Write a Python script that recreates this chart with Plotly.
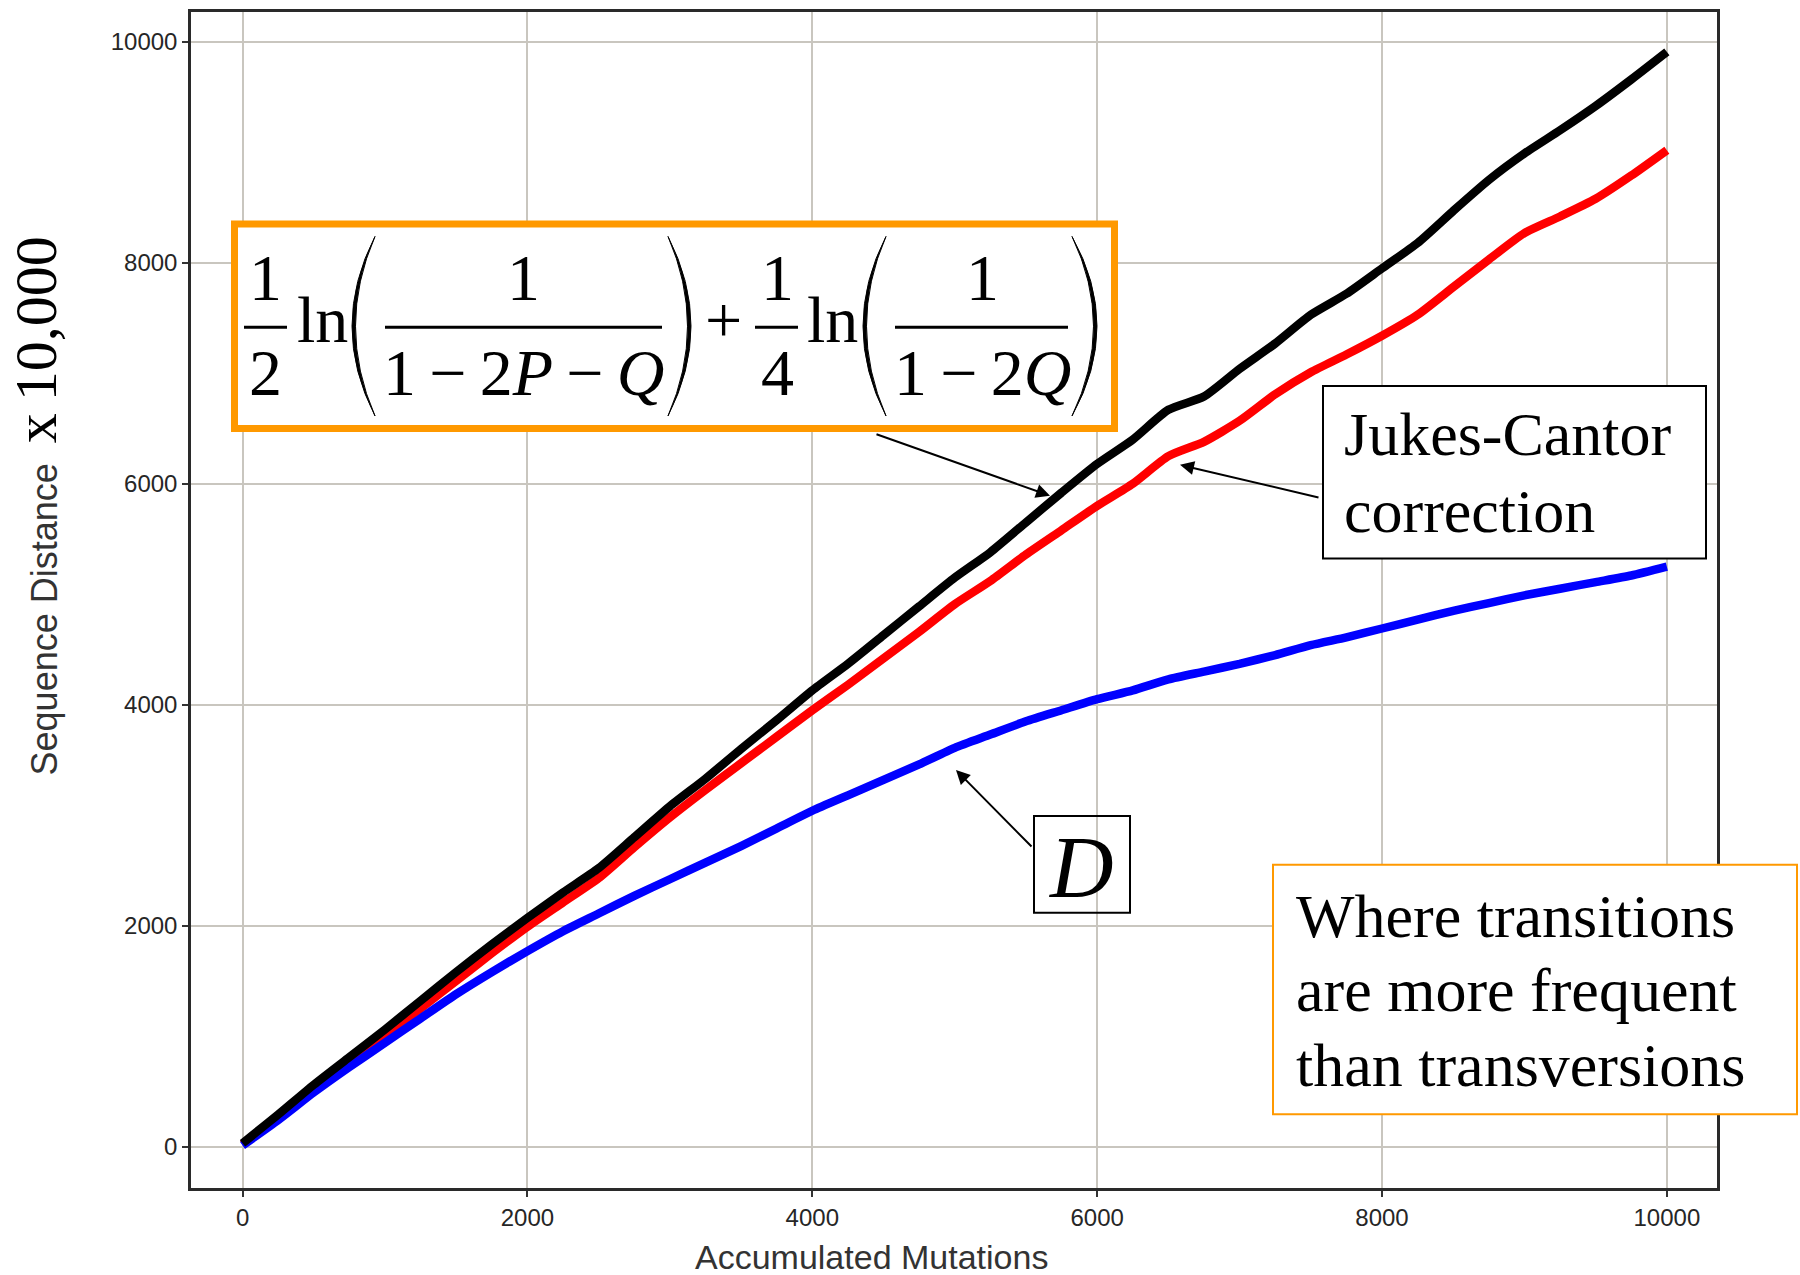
import plotly.graph_objects as go

# Accumulated mutations (x) and the three distance estimates (y, x10,000)
mutations = [0, 250, 500, 750, 1000, 1250, 1500, 1750, 2000, 2250, 2500, 2750,
             3000, 3250, 3500, 3750, 4000, 4250, 4500, 4750, 5000, 5250, 5500,
             5750, 6000, 6250, 6500, 6750, 7000, 7250, 7500, 7750, 8000, 8250,
             8500, 8750, 9000, 9250, 9500, 9750, 10000]

two_param_distance = [30, 290, 560, 810, 1060, 1320, 1580, 1830, 2070, 2300, 2520, 2800,
                      3080, 3330, 3600, 3860, 4130, 4370, 4630, 4890, 5150, 5380, 5650,
                      5920, 6180, 6400, 6670, 6790, 7040, 7270, 7530, 7720, 7950, 8180,
                      8470, 8750, 8990, 9200, 9420, 9660, 9910]

jukes_cantor = [20, 270, 530, 780, 1010, 1250, 1500, 1750, 1990, 2210, 2430, 2710,
                2980, 3230, 3470, 3710, 3950, 4180, 4420, 4660, 4910, 5120, 5360,
                5580, 5800, 6000, 6250, 6380, 6570, 6810, 7010, 7170, 7340, 7530,
                7780, 8030, 8270, 8420, 8580, 8790, 9020]

raw_distance = [10, 240, 490, 720, 940, 1160, 1380, 1580, 1770, 1950, 2110, 2270,
                2420, 2570, 2720, 2880, 3040, 3180, 3320, 3460, 3610, 3730, 3850,
                3950, 4050, 4130, 4230, 4300, 4370, 4450, 4540, 4610, 4690, 4770,
                4850, 4920, 4990, 5050, 5110, 5170, 5250]

x_ticks = [0, 2000, 4000, 6000, 8000, 10000]
x_tick_labels = ["0", "2000", "4000", "6000", "8000", "10000"]
y_ticks = [0, 2000, 4000, 6000, 8000, 10000]
y_tick_labels = ["0", "2000", "4000", "6000", "8000", "10000"]

SANS = "Liberation Sans, Arial, sans-serif"
SERIF = "Liberation Serif, Times New Roman, serif"
ORANGE = "#FF9900"

W, H = 1800, 1275
ML, MR, MT, MB = 191, 83, 9, 87
PW, PH = W - ML - MR, H - MT - MB


def px(x):
    return (x - ML) / PW


def py(y):
    return (MT + PH - y) / PH


fig = go.Figure()
for ys, col in [(jukes_cantor, "#FF0000"), (raw_distance, "#0000FF"),
                (two_param_distance, "#000000")]:
    fig.add_trace(go.Scatter(x=mutations, y=ys, mode="lines",
                             line=dict(color=col, width=8.5, shape="spline",
                                       smoothing=0.6),
                             hoverinfo="skip"))

axis_common = dict(showgrid=True, gridcolor="#c9c6bf", gridwidth=2, zeroline=False,
                   showline=True, linecolor="#2a2a2a", linewidth=2.5, mirror=True,
                   ticks="outside", ticklen=6, tickwidth=1.5, tickcolor="#333333",
                   tickfont=dict(family=SANS, size=24, color="#262626"))

fig.update_layout(
    width=W, height=H, margin=dict(l=ML, r=MR, t=MT, b=MB),
    plot_bgcolor="white", paper_bgcolor="white", showlegend=False,
    xaxis=dict(range=[-362, 10352], tickvals=x_ticks, ticktext=x_tick_labels,
               **axis_common),
    yaxis=dict(range=[-375, 10271], tickvals=y_ticks, ticktext=y_tick_labels,
               **axis_common),
)

shapes = []
annotations = []


def text(x, baseline, s, size, family=SERIF, anchor="center", color="black", k=0.34):
    annotations.append(dict(xref="paper", yref="paper", x=px(x), y=py(baseline - k * size),
                            text=s, showarrow=False, xanchor=anchor, yanchor="middle",
                            font=dict(family=family, size=size, color=color)))


def rect(x0, y0, x1, y1, color, width, fill="white"):
    shapes.append(dict(type="rect", xref="paper", yref="paper", layer="above",
                       x0=px(x0), x1=px(x1), y0=py(y0), y1=py(y1),
                       line=dict(color=color, width=width), fillcolor=fill))


def hline(x0, x1, y, width=3):
    shapes.append(dict(type="line", xref="paper", yref="paper", layer="above",
                       x0=px(x0), x1=px(x1), y0=py(y), y1=py(y),
                       line=dict(color="black", width=width)))


def paren(x_end, x_bulge, y0, y1, thick=3.5):
    """Tall parenthesis as a filled crescent: thin at the tips, thicker mid-way."""
    direction = 1 if x_bulge > x_end else -1
    ym = (y0 + y1) / 2
    c_outer = 2 * x_bulge - x_end
    c_inner = 2 * (x_bulge - direction * thick) - x_end
    path = (f"M {px(x_end)},{py(y0)} "
            f"Q {px(c_outer)},{py(ym)} {px(x_end)},{py(y1)} "
            f"Q {px(c_inner)},{py(ym)} {px(x_end)},{py(y0)} Z")
    shapes.append(dict(type="path", xref="paper", yref="paper", layer="above",
                       path=path, fillcolor="black", line=dict(color="black", width=1)))


def arrow(tip_x, tip_y, tail_x, tail_y):
    annotations.append(dict(xref="paper", yref="paper", x=px(tip_x), y=py(tip_y),
                            ax=tail_x - tip_x, ay=tail_y - tip_y, text="",
                            showarrow=True, arrowhead=2, arrowsize=1.4, arrowwidth=2,
                            arrowcolor="black", standoff=0, startstandoff=0))


# Kimura two-parameter formula box
rect(234.5, 221.5, 1114.5, 426.5, ORANGE, 7)
FS = 66
NUM_B, DEN_B, MID_B = 298, 393, 340
text(265, NUM_B, "1", FS)
text(265, DEN_B, "2", FS)
hline(244, 287, 325)
text(322, MID_B, "ln", FS)
paren(375, 352, 234, 414)
text(523, NUM_B, "1", FS)
hline(385, 662, 325)
text(523, DEN_B, "1\u2009\u2212\u20092<i>P</i>\u2009\u2212\u2009<i>Q</i>", FS)
paren(668, 691, 234, 414)
text(723, MID_B, "+", FS)
text(777, NUM_B, "1", FS)
text(777, DEN_B, "4", FS)
hline(755, 798, 325)
text(832, MID_B, "ln", FS)
paren(886, 863, 234, 414)
text(982, NUM_B, "1", FS)
hline(895, 1068, 325)
text(982, DEN_B, "1\u2009\u2212\u20092<i>Q</i>", FS)
paren(1072, 1097, 234, 414)

# Jukes-Cantor label
rect(1323, 384, 1706, 557, "black", 2)
text(1342, 453, "Jukes-Cantor", 62, anchor="left")
text(1342, 530, "correction", 62, anchor="left")

# D label
rect(1034, 815, 1130, 912, "black", 2, fill="rgba(0,0,0,0)")
text(1081, 897, "<i>D</i>", 88)

# Note box
rect(1273, 864, 1797, 1114, ORANGE, 2)
text(1294, 936, "Where transitions", 62, anchor="left")
text(1294, 1011, "are more frequent", 62, anchor="left")
text(1294, 1086, "than transversions", 62, anchor="left")

# Arrows
arrow(1050, 494, 875, 432)
arrow(1180, 463, 1320, 496)
arrow(956, 769, 1033, 847)

# Axis titles
annotations.append(dict(xref="paper", yref="paper", x=px(871), y=py(1257),
                        text="Accumulated Mutations", showarrow=False,
                        xanchor="center", yanchor="middle",
                        font=dict(family=SANS, size=34, color="#333333")))
annotations.append(dict(xref="paper", yref="paper", x=px(44), y=py(618),
                        text="Sequence Distance", showarrow=False, textangle=-90,
                        xanchor="center", yanchor="middle",
                        font=dict(family=SANS, size=36, color="#333333")))
annotations.append(dict(xref="paper", yref="paper", x=px(36), y=py(338),
                        text="x\u200910,000", showarrow=False, textangle=-90,
                        xanchor="center", yanchor="middle",
                        font=dict(family=SERIF, size=60, color="black")))

fig.update_layout(shapes=shapes, annotations=annotations)
fig.write_html("out.html")
